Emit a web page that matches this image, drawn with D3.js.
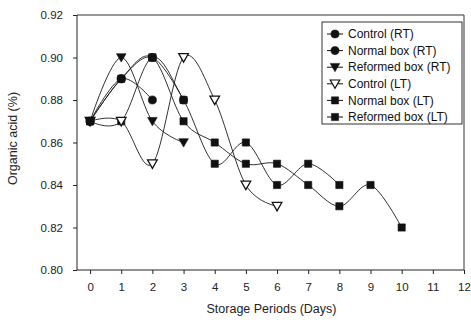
<!DOCTYPE html>
<html>
<head>
<meta charset="utf-8">
<script src="https://cdn.jsdelivr.net/npm/d3@7"></script>
<style>
  body { margin: 0; background: #fff; }
  svg { display: block; font-family: "Liberation Sans", Arial, sans-serif; }
</style>
</head>
<body>
<div id="chart"></div>
<script>
// Data (organic acid %, one value per storage day starting at day 0)
const dayTicks = [0, 1, 2, 3, 4, 5, 6, 7, 8, 9, 10, 11, 12];
const acidTicks = [0.80, 0.82, 0.84, 0.86, 0.88, 0.90, 0.92];
const seriesNames = ['Control (RT)', 'Normal box (RT)', 'Reformed box (RT)', 'Control (LT)', 'Normal box (LT)', 'Reformed box (LT)'];
const controlRT = [0.87, 0.89, 0.88];
const normalRT = [0.87, 0.89, 0.90, 0.88];
const reformedRT = [0.87, 0.90, 0.87, 0.86];
const controlLT = [0.87, 0.87, 0.85, 0.90, 0.88, 0.84, 0.83];
const normalLT = [0.87, 0.87, 0.90, 0.88, 0.85, 0.86, 0.84, 0.85, 0.84];
const reformedLT = [0.87, 0.89, 0.90, 0.87, 0.86, 0.85, 0.85, 0.84, 0.83, 0.84, 0.82];

const seriesValues = [controlRT, normalRT, reformedRT, controlLT, normalLT, reformedLT];
const markerTypes = ['circle', 'circle', 'triDown', 'triOpen', 'square', 'square'];

const W = 471, H = 330;
const plot = { left: 77, right: 464, top: 15, bottom: 270 };

const svg = d3.select('#chart').append('svg')
  .attr('width', W)
  .attr('height', H);

const x = d3.scaleLinear().domain([-0.42, 12]).range([plot.left, plot.right]);
const y = d3.scaleLinear().domain([0.80, 0.92]).range([plot.bottom, plot.top]);

// marker path generator
function markerPath(type) {
  if (type === 'circle') return d3.symbol().type(d3.symbolCircle).size(52)();
  if (type === 'square') return d3.symbol().type(d3.symbolSquare).size(52)();
  // downward triangle
  return 'M-4.8,-3.8L4.8,-3.8L0,4.6Z';
}

// plot frame (top + right)
svg.append('path')
  .attr('d', `M${plot.left},${plot.top}H${plot.right}V${plot.bottom}`)
  .attr('fill', 'none')
  .attr('stroke', '#333')
  .attr('stroke-width', 1);

// axes
const yAxis = svg.append('g')
  .attr('transform', `translate(${plot.left},0)`)
  .call(d3.axisLeft(y).tickValues(acidTicks).tickSize(4).tickPadding(10).tickFormat(d3.format('.2f')));

const xAxis = svg.append('g')
  .attr('transform', `translate(0,${plot.bottom})`)
  .call(d3.axisBottom(x).tickValues(dayTicks).tickSize(4).tickPadding(9).tickFormat(d => d));

[yAxis, xAxis].forEach(g => {
  g.select('.domain').attr('stroke', '#222');
  g.selectAll('.tick line').attr('stroke', '#222');
  g.selectAll('.tick text')
    .attr('fill', '#222')
    .style('font-family', '"Liberation Sans", Arial, sans-serif')
    .style('font-size', '11.5px');
});
// keep the axis lines flush with the frame
yAxis.select('.domain').attr('d', `M0,${plot.top}V${plot.bottom}`);
xAxis.select('.domain').attr('d', `M${plot.left},0H${plot.right}`);

// axis titles
svg.append('text')
  .attr('x', (plot.left + plot.right) / 2 + 1)
  .attr('y', 313)
  .attr('text-anchor', 'middle')
  .attr('fill', '#222')
  .style('font-size', '12.5px')
  .text('Storage Periods (Days)');

svg.append('text')
  .attr('transform', `translate(17,${(plot.top + plot.bottom) / 2 - 4}) rotate(-90)`)
  .attr('text-anchor', 'middle')
  .attr('fill', '#222')
  .style('font-size', '12.5px')
  .text('Organic acid (%)');

// smoothed lines (Excel-style smoothing ~ uniform Catmull-Rom)
const line = d3.line()
  .x((d, i) => x(i))
  .y(d => y(d))
  .curve(d3.curveCatmullRom.alpha(0));

const chartArea = svg.append('g');

// draw last series first so the first ones sit on top
d3.range(seriesValues.length - 1, -1, -1).forEach(s => {
  chartArea.append('path')
    .datum(seriesValues[s])
    .attr('d', line)
    .attr('fill', 'none')
    .attr('stroke', '#1a1a1a')
    .attr('stroke-width', 0.9);
});

d3.range(seriesValues.length - 1, -1, -1).forEach(s => {
  const type = markerTypes[s];
  chartArea.selectAll(null)
    .data(seriesValues[s])
    .enter()
    .append('path')
    .attr('transform', (d, i) => `translate(${x(i)},${y(d)})`)
    .attr('d', markerPath(type))
    .attr('fill', type === 'triOpen' ? '#fff' : '#111')
    .attr('stroke', '#111')
    .attr('stroke-width', type === 'triOpen' ? 1.3 : 0.6);
});

// legend
const legendBox = { x: 322, y: 22, w: 140, h: 102 };
const legend = svg.append('g');
legend.append('rect')
  .attr('x', legendBox.x)
  .attr('y', legendBox.y)
  .attr('width', legendBox.w)
  .attr('height', legendBox.h)
  .attr('fill', '#fff')
  .attr('stroke', '#333')
  .attr('stroke-width', 1);

const rowY = d3.scaleLinear().domain([0, 5]).range([legendBox.y + 12, legendBox.y + 95]);

const items = legend.selectAll('.legend-item')
  .data(seriesNames)
  .enter()
  .append('g')
  .attr('class', 'legend-item')
  .attr('transform', (d, i) => `translate(${legendBox.x + 5},${rowY(i)})`);

items.append('line')
  .attr('x1', 0).attr('x2', 16)
  .attr('stroke', '#111')
  .attr('stroke-width', 1);

items.append('path')
  .attr('transform', 'translate(8,0)')
  .attr('d', (d, i) => markerPath(markerTypes[i]))
  .attr('fill', (d, i) => markerTypes[i] === 'triOpen' ? '#fff' : '#111')
  .attr('stroke', '#111')
  .attr('stroke-width', (d, i) => markerTypes[i] === 'triOpen' ? 1.2 : 0.5);

items.append('text')
  .attr('x', 21)
  .attr('dy', '0.35em')
  .attr('fill', '#111')
  .style('font-size', '12px')
  .text(d => d);
</script>
</body>
</html>
